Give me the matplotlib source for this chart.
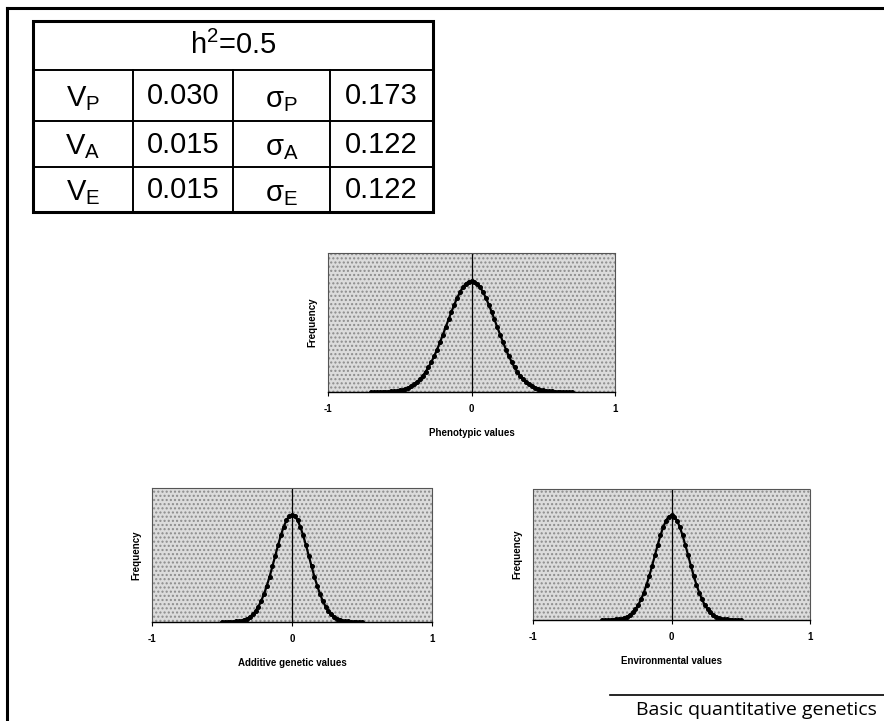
import matplotlib
matplotlib.use("Agg")
import matplotlib.pyplot as plt
from matplotlib.patches import Rectangle

W, H = 884, 721

# table contents
header = r"h$^\mathregular{2}$=0.5"
var_names = [r"$\mathregular{V_P}$", r"$\mathregular{V_A}$", r"$\mathregular{V_E}$"]
var_values = ["0.030", "0.015", "0.015"]
sd_names = [r"$\mathregular{σ_P}$", r"$\mathregular{σ_A}$", r"$\mathregular{σ_E}$"]
sd_values = ["0.173", "0.122", "0.122"]

# relative frequency (x = 0, 0.02, 0.04, ... one half, curves are symmetric)
pheno_half = [1.000, 0.993, 0.974, 0.942, 0.899, 0.846, 0.786, 0.721, 0.652, 0.582,
              0.513, 0.446, 0.382, 0.323, 0.270, 0.222, 0.181, 0.145, 0.115, 0.090,
              0.069, 0.053, 0.039, 0.029, 0.021, 0.015, 0.011, 0.008, 0.005, 0.004,
              0.002, 0.002, 0.001, 0.001, 0.000, 0.000]
genetic_half = [1.000, 0.987, 0.948, 0.886, 0.807, 0.715, 0.617, 0.518, 0.423, 0.337,
                0.261, 0.197, 0.144, 0.103, 0.072, 0.049, 0.032, 0.021, 0.013, 0.008,
                0.005, 0.003, 0.002, 0.001, 0.000, 0.000]
env_half = [1.000, 0.987, 0.948, 0.886, 0.807, 0.715, 0.617, 0.518, 0.423, 0.337,
            0.261, 0.197, 0.144, 0.103, 0.072, 0.049, 0.032, 0.021, 0.013, 0.008,
            0.005, 0.003, 0.002, 0.001, 0.000, 0.000]
step = 0.02

fig = plt.figure(figsize=(W / 100, H / 100), dpi=100)
fig.patch.set_facecolor("white")

# page overlay in pixel coordinates
page = fig.add_axes([0, 0, 1, 1])
page.set_xlim(0, W)
page.set_ylim(H, 0)
page.axis("off")

page.plot([7, W], [8, 8], color="black", lw=2.2)
page.plot([7, 7], [8, H], color="black", lw=2.2)

# table grid
tx = [33, 133, 233, 330, 433]
ty = [21, 70, 121, 167, 212]
page.add_patch(Rectangle((tx[0], ty[0]), tx[-1] - tx[0], ty[-1] - ty[0],
                         fill=False, edgecolor="black", lw=2.2))
for y in ty[1:-1]:
    page.plot([tx[0], tx[-1]], [y, y], color="black", lw=1.4)
for x in tx[1:-1]:
    page.plot([x, x], [ty[1], ty[-1]], color="black", lw=1.4)

tfont = dict(family="Liberation Sans", fontsize=21, ha="center", va="center")
page.text((tx[0] + tx[-1]) / 2, (ty[0] + ty[1]) / 2, header, **tfont)
for i in range(3):
    yc = (ty[i + 1] + ty[i + 2]) / 2
    page.text((tx[0] + tx[1]) / 2, yc + 3, var_names[i], **tfont)
    page.text((tx[1] + tx[2]) / 2, yc + 1, var_values[i], **tfont)
    page.text((tx[2] + tx[3]) / 2, yc + 4, sd_names[i], **tfont)
    page.text((tx[3] + tx[4]) / 2, yc + 1, sd_values[i], **tfont)

# footer
page.plot([610, W], [695, 695], color="black", lw=1.2)
page.text(877, 715, "Basic quantitative genetics", family="Open Sans",
          fontsize=14, ha="right", va="baseline")


def mirrored(half):
    n = len(half)
    xs = [step * k for k in range(-(n - 1), n)]
    ys = half[:0:-1] + half
    return xs, ys


def freq_panel(box, half, xlabel):
    x0, y0, x1, y1 = box
    ax = fig.add_axes([x0 / W, 1 - y1 / H, (x1 - x0) / W, (y1 - y0) / H])
    ax.set_facecolor("#dcdcdc")
    ax.add_patch(Rectangle((0, 0), 1, 1, transform=ax.transAxes, facecolor="none",
                           hatch="....", edgecolor="#8c8c8c", lw=0, zorder=0))
    xs, ys = mirrored(half)
    ax.plot(xs, ys, color="black", lw=1.6, marker="o", markersize=2.6, zorder=3)
    ax.axvline(0, color="black", lw=0.9, zorder=2)
    ax.set_xlim(-1, 1)
    ax.set_ylim(0, 1.25)
    for s in ["top", "right", "left"]:
        ax.spines[s].set_linestyle((0, (1, 1)))
        ax.spines[s].set_color("#555555")
        ax.spines[s].set_linewidth(0.8)
    ax.spines["bottom"].set_linewidth(1.0)
    ax.set_yticks([])
    ax.set_xticks([-1, 0, 1])
    ax.set_xticklabels(["-1", "0", "1"], fontweight="bold", fontsize=7,
                       family="Liberation Sans")
    ax.tick_params(axis="x", direction="out", length=3, width=0.8, pad=6)
    ax.set_xlabel(xlabel, fontweight="bold", fontsize=7, family="Liberation Sans",
                  labelpad=10)
    ax.set_ylabel("Frequency", fontweight="bold", fontsize=7,
                  family="Liberation Sans", labelpad=8)
    return ax


freq_panel((328, 253, 615, 392), pheno_half, "Phenotypic values")
freq_panel((152, 488, 432, 622), genetic_half, "Additive genetic values")
freq_panel((533, 489, 810, 620), env_half, "Environmental values")

fig.savefig("out.png", dpi=100)
